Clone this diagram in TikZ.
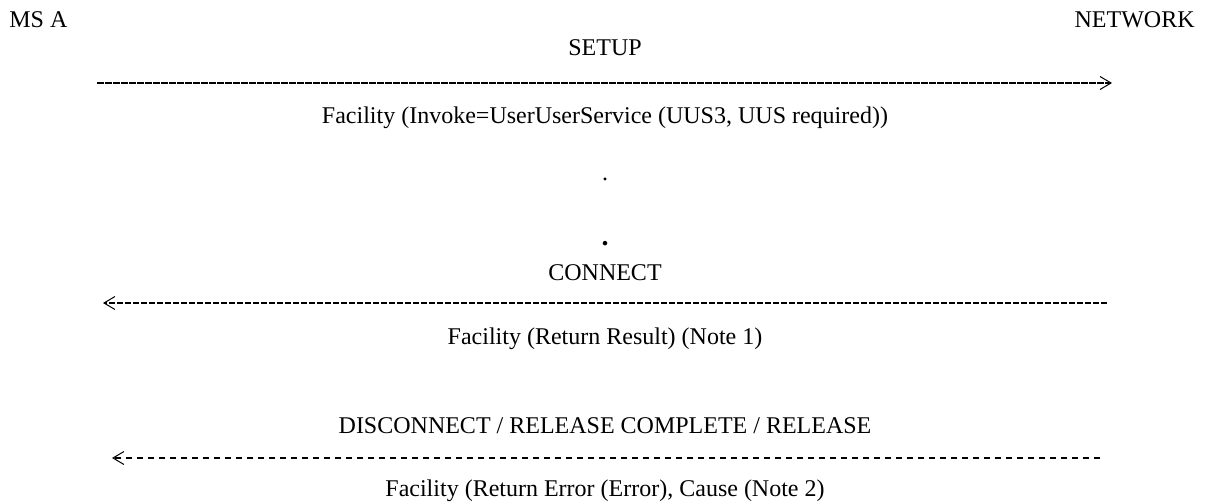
\documentclass[tikz,border=0pt]{standalone}
\usepackage{fontspec}
\setmainfont{Liberation Serif}
\usetikzlibrary{arrows.meta}

\begin{document}
\begin{tikzpicture}[
        x=0.5pt, y=-0.5pt,
        >={Straight Barb[length=5.5pt,width=6.5pt,line width=0.5pt]},
        lbl/.style={anchor=base, inner sep=0pt, font=\fontsize{12}{14}\selectfont},
        msg/.style={line width=0.8pt, dash pattern=on 3.25pt off 0.75pt},
        msgspaced/.style={line width=0.8pt, dash pattern=on 3pt off 2.5pt},
    ]
    \useasboundingbox (0, 0) rectangle (1209, 503);

    % the two sides
    \node[lbl, anchor=base west] (msa) at (9, 27) {MS A};
    \node[lbl, anchor=base east] (net) at (1195, 27) {NETWORK};

    % setup
    \node[lbl] (setup) at (605, 55) {SETUP};
    \coordinate (s1) at (97, 83);
    \coordinate (e1) at (1112, 83);
    \draw[msg,->] (s1) -- (e1);
    \node[lbl] (fac1) at (605, 123) {Facility (Invoke=UserUserService (UUS3, UUS required))};

    \node[lbl] (dot1) at (605, 180) {.};
    \node[lbl, font=\fontsize{14}{16}\selectfont\bfseries] (dot2) at (605, 245) {.};

    % connect
    \node[lbl] (connect) at (605, 280) {CONNECT};
    \coordinate (s2) at (1107, 303);
    \coordinate (e2) at (103, 303);
    \draw[msg,->] (s2) -- (e2);
    \node[lbl] (fac2) at (605, 344) {Facility (Return Result) (Note 1)};

    % clearing
    \node[lbl] (disc) at (605, 433) {DISCONNECT / RELEASE COMPLETE / RELEASE};
    \coordinate (s3) at (1100, 458);
    \coordinate (e3) at (112, 458);
    \draw[msgspaced,->] (s3) -- (e3);
    \node[lbl] (fac3) at (605, 496) {Facility (Return Error (Error), Cause (Note 2)};
    \end{tikzpicture}
\end{document}
